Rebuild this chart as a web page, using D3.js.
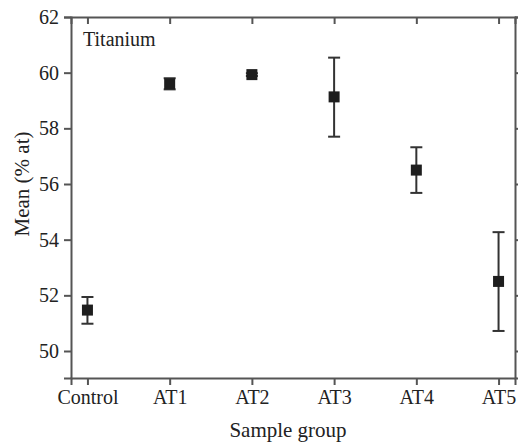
<!DOCTYPE html>
<meta charset="utf-8">
<title>Titanium</title>
<style>
  body { margin: 0; background: #fff; }
  svg text { font-family: "Times New Roman", "Liberation Serif", Times, "DejaVu Serif", serif !important; fill: #222; }
</style>
<div id="viz"></div>
<script src="https://cdnjs.cloudflare.com/ajax/libs/d3/7.8.5/d3.min.js"></script>
<script>

var groups = ["Control", "AT1", "AT2", "AT3", "AT4", "AT5"];
var means  = [51.47, 59.6, 59.93, 59.13, 56.5, 52.5];
var errLow  = [50.98, 59.4, 59.88, 57.7, 55.68, 50.72];
var errHigh = [51.94, 59.8, 59.98, 60.54, 57.32, 54.27];
var yTicks = [50, 52, 54, 56, 58, 60, 62];

var width = 518;
var height = 447;
var margin = {top: 17, right: 3, bottom: 69, left: 71};

var svg = d3.select("#viz")
    .append("svg")
    .attr("width", width)
    .attr("height", height);

var x = d3.scaleLinear()
    .domain([-0.2, 5.2])
    .range([margin.left, width - margin.right]);

var y = d3.scaleLinear()
    .domain([49.03, 62])
    .range([height - margin.bottom, margin.top]);

var frame = "#555";

// axes: left & bottom outward, top & right inward
var idx = groups.map(function(d, i) { return i; });

var gl = svg.append("g")
    .attr("transform", "translate(" + margin.left + ",0)")
    .call(d3.axisLeft(y).tickValues(yTicks).tickSize(7).tickPadding(5).tickFormat(d3.format("d")));
var gr = svg.append("g")
    .attr("transform", "translate(" + (width - margin.right) + ",0)")
    .call(d3.axisLeft(y).tickValues(yTicks).tickSize(-7).tickFormat(""));
var gb = svg.append("g")
    .attr("transform", "translate(0," + (height - margin.bottom) + ")")
    .call(d3.axisBottom(x).tickValues(idx).tickSize(7).tickPadding(5)
      .tickFormat(function(i) { return groups[i]; }));
var gt = svg.append("g")
    .attr("transform", "translate(0," + margin.top + ")")
    .call(d3.axisBottom(x).tickValues(idx).tickSize(7).tickFormat(""));

[gl, gr, gb, gt].forEach(function(g) {
  g.attr("font-family", null);
  g.select(".domain").attr("stroke", frame).attr("stroke-width", 2);
  g.selectAll(".tick line").attr("stroke", frame).attr("stroke-width", 2);
  g.selectAll(".tick text")
    .attr("font-size", 20)
    .attr("fill", "#222");
});

// error bars
var bars = svg.append("g").selectAll("g")
    .data(groups)
    .enter().append("g");

bars.append("line")
    .attr("x1", function(d, i) { return x(i); })
    .attr("x2", function(d, i) { return x(i); })
    .attr("y1", function(d, i) { return y(errLow[i]); })
    .attr("y2", function(d, i) { return y(errHigh[i]); })
    .attr("stroke", "#333").attr("stroke-width", 2);

[errLow, errHigh].forEach(function(arr) {
  bars.append("line")
    .attr("x1", function(d, i) { return x(i) - 6; })
    .attr("x2", function(d, i) { return x(i) + 6; })
    .attr("y1", function(d, i) { return y(arr[i]); })
    .attr("y2", function(d, i) { return y(arr[i]); })
    .attr("stroke", "#333").attr("stroke-width", 2);
});

bars.append("rect")
    .attr("x", function(d, i) { return x(i) - 5.5; })
    .attr("y", function(d, i) { return y(means[i]) - 5.5; })
    .attr("width", 11)
    .attr("height", 11)
    .attr("fill", "#1e1e1e");

// labels
svg.append("text")
    .attr("x", 83)
    .attr("y", 46)
    .attr("font-size", 20)
    .text("Titanium");

svg.append("text")
    .attr("x", 288)
    .attr("y", 437)
    .attr("text-anchor", "middle")
    .attr("font-size", 21)
    .text("Sample group");

svg.append("text")
    .attr("transform", "translate(29,184) rotate(-90)")
    .attr("text-anchor", "middle")
    .attr("font-size", 21)
    .text("Mean (% at)");

</script>
